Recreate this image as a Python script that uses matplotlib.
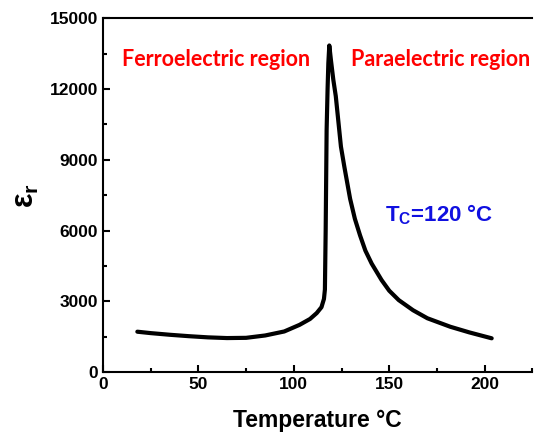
import matplotlib
matplotlib.use('Agg')
import matplotlib.pyplot as plt

plt.rcParams['font.family'] = 'Liberation Sans'
plt.rcParams['font.weight'] = 'bold'
plt.rcParams['mathtext.fontset'] = 'custom'
plt.rcParams['mathtext.rm'] = 'Liberation Sans:bold'
plt.rcParams['mathtext.bf'] = 'Liberation Sans:bold'
plt.rcParams['mathtext.it'] = 'Liberation Sans:bold'

# dielectric permittivity vs temperature
temperature = [18, 25, 35, 45, 55, 65, 75, 85, 95, 103, 108.5, 112, 114.5,
               115.8, 116.3, 116.7, 117.2, 117.7, 118.1, 118.6, 119.5, 120.7,
               122, 124.7, 126.5, 129.5, 132, 134.7, 137.5, 140.8, 146, 150,
               155, 162.5, 170, 182, 192, 203.7]
eps_r = [1710, 1650, 1580, 1520, 1470, 1440, 1450, 1550, 1720, 2000, 2250,
         2500, 2750, 3100, 3500, 6000, 10270, 12000, 13100, 13850, 13200,
         12400, 11700, 9560, 8700, 7350, 6500, 5800, 5150, 4600, 3900, 3450,
         3050, 2620, 2280, 1920, 1680, 1430]

x_ticks = [0, 50, 100, 150, 200]
y_ticks = [0, 3000, 6000, 9000, 12000, 15000]

fig = plt.figure(figsize=(5.35, 4.37), dpi=100)
ax = fig.add_axes([0.1925, 0.1487, 0.8025, 0.8093])

ax.plot(temperature, eps_r, color='black', lw=3, solid_capstyle='round',
        solid_joinstyle='round')

ax.set_xlim(0, 225)
ax.set_ylim(0, 15000)
ax.set_xticks(x_ticks)
ax.set_yticks(y_ticks)
ax.set_xticks([25, 75, 125, 175, 225], minor=True)
ax.set_yticks([1500, 4500, 7500, 10500, 13500], minor=True)
ax.tick_params(which='both', direction='in', width=1.5, labelsize=12.5)
ax.tick_params(which='major', length=5)
ax.tick_params(which='minor', length=3)
for s in ['left', 'bottom', 'top']:
    ax.spines[s].set_linewidth(1.5)
ax.spines['right'].set_visible(False)

ax.set_xlabel('Temperature °C', fontsize=16.5, fontweight='bold', labelpad=12)
ax.set_ylabel(r'$\mathbf{ε_r}$', fontsize=22, labelpad=6)

ax.text(59.5, 13240, 'Ferroelectric region', color='red', fontsize=15.5,
        family='Lato', fontweight='bold', ha='center', va='center')
ax.text(177, 13240, 'Paraelectric region', color='red', fontsize=15.5,
        family='Lato', fontweight='bold', ha='center', va='center')
ax.text(147.8, 6660, r'$\mathbf{T_C}$=120 °C', color='#1010e0',
        fontsize=16, fontweight='bold', ha='left', va='center')

fig.savefig('out.png', dpi=100)
